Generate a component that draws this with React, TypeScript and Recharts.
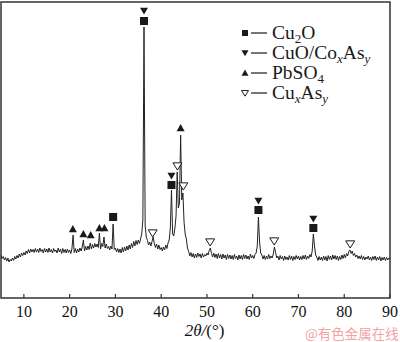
import { ComposedChart, Line, Scatter, XAxis, YAxis, ReferenceArea, Legend, Label } from "recharts";

// XRD pattern, 2θ from 5° to 90° sampled every 0.25°
const startAngle = 5;
const stepAngle = 0.25;
const intensity = [
  // 5 - 9.75
  430, 395, 415, 380, 405, 370, 400, 360, 385, 370, 400, 375, 415, 390, 425, 400, 440, 410, 450, 425,
  // 10 - 14.75
  455, 430, 470, 445, 485, 450, 490, 460, 485, 455, 495, 460, 490, 455, 500, 465, 485, 450, 495, 460,
  // 15 - 19.75
  490, 455, 500, 460, 485, 450, 495, 465, 480, 450, 500, 460, 490, 445, 495, 455, 485, 450, 490, 455,
  // 20 - 24.75
  480, 445, 490, 630, 455, 495, 450, 490, 460, 500, 470, 510, 580, 470, 515, 480, 520, 485, 550, 490,
  // 25 - 29.75
  535, 500, 545, 510, 540, 505, 650, 490, 545, 515, 610, 500, 540, 495, 515, 480, 520, 490, 740, 485,
  // 30 - 34.75
  500, 460, 495, 455, 490, 450, 505, 460, 510, 470, 520, 480, 530, 490, 545, 505, 565, 520, 575, 535,
  // 35 - 39.75
  580, 545, 590, 640, 780, 2710, 720, 610, 575, 530, 560, 520, 565, 610, 545, 505, 540, 490, 530, 485,
  // 40 - 44.75
  505, 470, 510, 480, 530, 495, 550, 580, 700, 1080, 640, 620, 700, 820, 1260, 900, 950, 1630, 980, 1050,
  // 45 - 49.75
  760, 640, 590, 500, 465, 420, 455, 410, 445, 400, 440, 405, 450, 415, 440, 400, 445, 410, 435, 420,
  // 50 - 54.75
  450, 430, 475, 500, 445, 410, 450, 405, 440, 395, 445, 400, 435, 390, 440, 400, 430, 385, 435, 395,
  // 55 - 59.75
  430, 390, 425, 385, 435, 395, 420, 380, 430, 390, 425, 385, 435, 395, 430, 390, 420, 385, 440, 400,
  // 60 - 64.75
  425, 395, 435, 450, 520, 810, 560, 450, 430, 390, 425, 385, 420, 390, 435, 395, 420, 400, 440, 510,
  // 65 - 69.75
  455, 400, 420, 380, 425, 390, 415, 375, 420, 385, 410, 380, 425, 385, 420, 375, 415, 385, 425, 390,
  // 70 - 74.75
  420, 380, 415, 385, 425, 390, 430, 385, 420, 395, 435, 410, 470, 640, 520, 430, 410, 375, 415, 380,
  // 75 - 79.75
  410, 375, 420, 380, 415, 370, 425, 385, 420, 380, 430, 390, 425, 385, 420, 375, 415, 385, 430, 395,
  // 80 - 84.75
  435, 400, 445, 420, 465, 480, 445, 470, 425, 445, 410, 430, 395, 420, 390, 425, 385, 415, 380, 410,
  // 85 - 90
  390, 420, 380, 410, 375, 415, 385, 420, 375, 410, 380, 415, 370, 405, 380, 410, 375, 405, 380, 400,
  395,
];

const xTicks = [10, 20, 30, 40, 50, 60, 70, 80, 90];

// phase markers (2θ, height above the peak)
const cu2oMarks = [
  { x: 29.5, y: 810 },
  { x: 36.25, y: 2770 },
  { x: 42.25, y: 1130 },
  { x: 61.25, y: 880 },
  { x: 73.25, y: 700 },
];
const cuoMarks = [
  { x: 36.25, y: 2870 },
  { x: 42.25, y: 1220 },
  { x: 61.25, y: 970 },
  { x: 73.25, y: 790 },
];
const pbso4Marks = [
  { x: 20.7, y: 690 },
  { x: 23.0, y: 640 },
  { x: 24.6, y: 630 },
  { x: 26.5, y: 700 },
  { x: 27.6, y: 700 },
  { x: 44.25, y: 1700 },
];
const cuxasMarks = [
  { x: 38.15, y: 650 },
  { x: 43.55, y: 1320 },
  { x: 44.85, y: 1120 },
  { x: 50.7, y: 560 },
  { x: 64.7, y: 570 },
  { x: 81.3, y: 540 },
];

const trace = intensity.map((v, i) => ({ x: startAngle + i * stepAngle, y: v }));

const INK = "#1a1a1a";
const SERIF = "'Liberation Serif', 'Times New Roman', serif";

const Square = ({ cx, cy, s = 8 }: any) => (
  <rect x={cx - s / 2} y={cy - s / 2} width={s} height={s} fill={INK} />
);
const Down = ({ cx, cy, s = 8 }: any) => (
  <polygon points={`${cx - s / 2},${cy - s * 0.4} ${cx + s / 2},${cy - s * 0.4} ${cx},${cy + s * 0.45}`} fill={INK} />
);
const Up = ({ cx, cy, s = 8 }: any) => (
  <polygon points={`${cx - s / 2},${cy + s * 0.4} ${cx + s / 2},${cy + s * 0.4} ${cx},${cy - s * 0.5}`} fill={INK} />
);
const OpenDown = ({ cx, cy, s = 9 }: any) => (
  <polygon
    points={`${cx - s / 2},${cy - s * 0.35} ${cx + s / 2},${cy - s * 0.35} ${cx},${cy + s * 0.45}`}
    fill="#fff"
    stroke={INK}
    strokeWidth={1}
  />
);

const XTick = ({ x, y, payload }: any) => (
  <g>
    <line x1={x} x2={x} y1={y} y2={y - 4} stroke="#333" strokeWidth={1.2} />
    <text x={x} y={y + 19} textAnchor="middle" fontSize={16} fontFamily={SERIF} fill="#111">
      {payload.value}
    </text>
  </g>
);

// legend drawn in svg so each row is one text element
const legendRows = [
  { Mark: Square, s: 6, parts: [["Cu", ""], ["2", "s"], ["O", ""]] },
  { Mark: Down, s: 7, parts: [["CuO/Co", ""], ["x", "si"], ["As", ""], ["y", "si"]] },
  { Mark: Up, s: 7, parts: [["PbSO", ""], ["4", "s"]] },
  { Mark: OpenDown, s: 7, parts: [["Cu", ""], ["x", "si"], ["As", ""], ["y", "si"]] },
];

const PhaseLegend = () => (
  <svg width={150} height={84} style={{ display: "block" }}>
    {legendRows.map((r, i) => {
      const cy = 10 + i * 20;
      let down = 0;
      return (
        <g key={i}>
          <r.Mark cx={5} cy={cy} s={r.s} />
          <line x1={11} x2={27} y1={cy} y2={cy} stroke={INK} strokeWidth={1.2} />
          <text x={32} y={cy + 6.3} fontFamily={SERIF} fontSize={19.5} fill={INK}>
            {r.parts.map(([t, k], j) => {
              const isSub = k.startsWith("s");
              const dy = isSub ? 3.5 - down : -down;
              down = isSub ? 3.5 : 0;
              return (
                <tspan key={j} dy={dy} fontSize={isSub ? 13 : 19.5} fontStyle={k === "si" ? "italic" : "normal"}>
                  {t}
                </tspan>
              );
            })}
          </text>
        </g>
      );
    })}
  </svg>
);

export default function App() {
  return (
    <div style={{ position: "absolute", left: 0, top: 0, width: 400, height: 342, background: "#fff" }}>
      <ComposedChart width={400} height={342} margin={{ top: 2, right: 10, bottom: 0, left: 1 }}>
        <XAxis
          type="number"
          dataKey="x"
          domain={[5, 90]}
          ticks={xTicks}
          allowDataOverflow
          axisLine={false}
          tickLine={false}
          tickSize={0}
          tickMargin={0}
          height={44}
          tick={<XTick />}
          interval={0}
        >
          <Label
            content={({ viewBox }: any) => (
              <text
                x={viewBox.x + viewBox.width / 2 + 9}
                y={viewBox.y + 38}
                textAnchor="middle"
                fontSize={17}
                fontFamily={SERIF}
                fill="#111"
              >
                <tspan fontStyle="italic">2θ/</tspan>
                <tspan>(°)</tspan>
              </text>
            )}
          />
        </XAxis>
        <YAxis type="number" domain={[0, 2960]} hide allowDataOverflow />
        <Line
          data={trace}
          dataKey="y"
          type="linear"
          stroke="#222"
          strokeWidth={1}
          dot={false}
          isAnimationActive={false}
        />
        <Scatter data={cu2oMarks} dataKey="y" shape={(p: any) => <Square cx={p.cx} cy={p.cy} />} isAnimationActive={false} />
        <Scatter data={cuoMarks} dataKey="y" shape={(p: any) => <Down cx={p.cx} cy={p.cy} />} isAnimationActive={false} />
        <Scatter data={pbso4Marks} dataKey="y" shape={(p: any) => <Up cx={p.cx} cy={p.cy} />} isAnimationActive={false} />
        <Scatter data={cuxasMarks} dataKey="y" shape={(p: any) => <OpenDown cx={p.cx} cy={p.cy} />} isAnimationActive={false} />
        <ReferenceArea x1={5} x2={90} y1={0} y2={2960} fill="none" stroke="#333" strokeWidth={1.5} />
        <Legend
          layout="horizontal"
          verticalAlign="middle"
          align="center"
          content={() => <PhaseLegend />}
          wrapperStyle={{ top: 23, left: 240, width: "auto" }}
        />
      </ComposedChart>
      <div
        style={{
          position: "absolute",
          left: 305,
          top: 324,
          fontSize: 13.5,
          lineHeight: "18px",
          color: "#f2a3a3",
          fontFamily: "'Noto Sans CJK SC', sans-serif",
          whiteSpace: "nowrap",
        }}
      >
        @有色金属在线
      </div>
    </div>
  );
}
